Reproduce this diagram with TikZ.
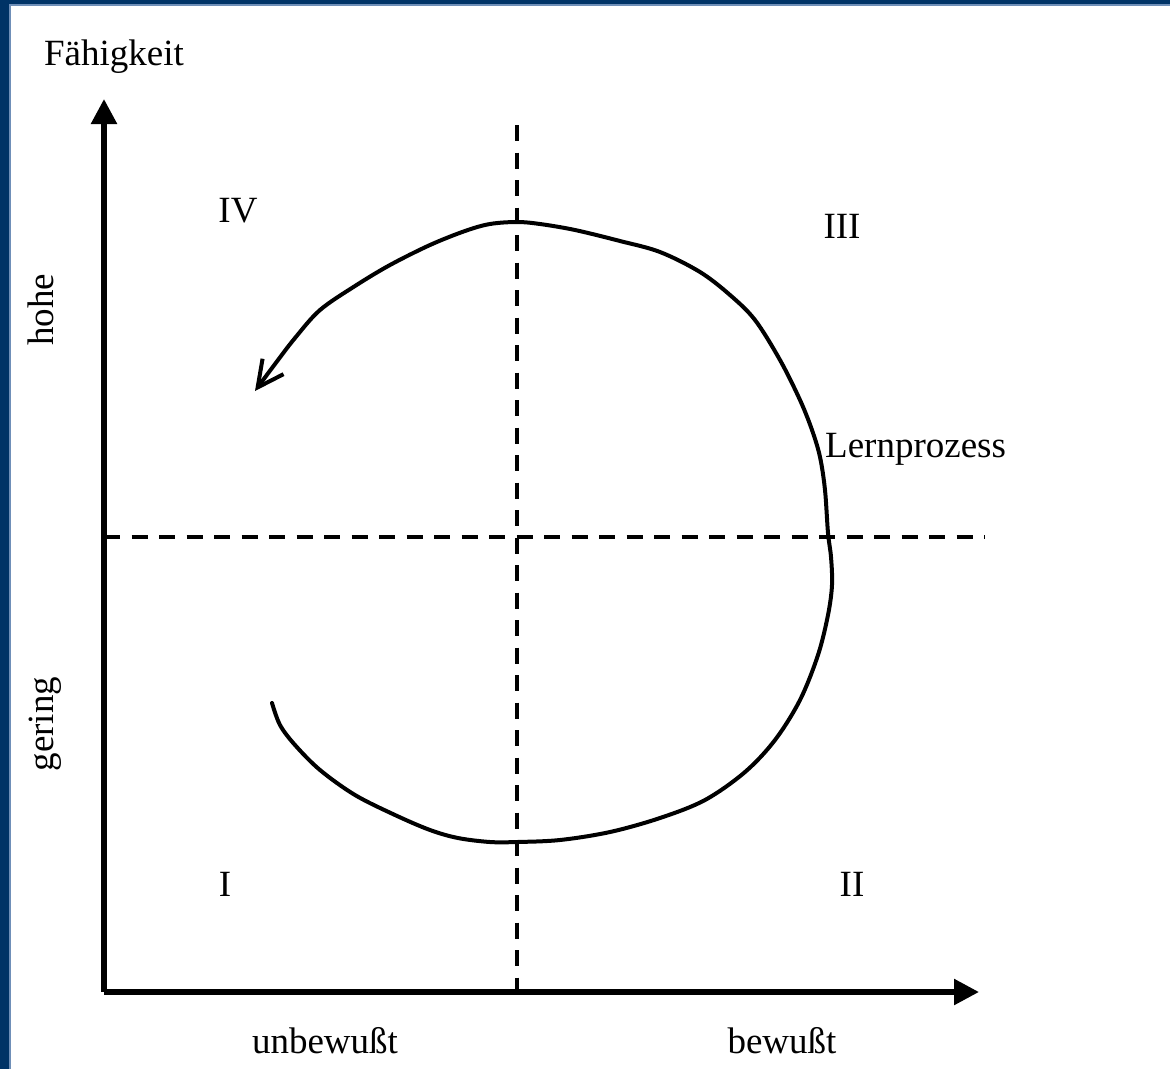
\documentclass[tikz,border=0pt]{standalone}
\usepackage{fontspec}
\setmainfont{Liberation Serif}
\usetikzlibrary{arrows.meta}
\definecolor{navy}{HTML}{003366}
\definecolor{navyedge}{HTML}{6F8FB8}
\begin{document}
\begin{tikzpicture}[x=1pt,y=-1pt,
  lbl/.style={inner sep=0pt,font=\fontsize{37}{44}\selectfont},
  axis/.style={line width=5.5pt,-{Triangle[length=25pt,width=25pt]}},
  divider/.style={line width=4.5pt,dash pattern=on 16pt off 11.5pt},
  curve/.style={line width=4pt,line cap=round,line join=round,-{Straight Barb[length=26pt,width=26pt,line width=4pt]}}]
\useasboundingbox (0,0) rectangle (1170,1069);
\fill[white] (0,0) rectangle (1170,1069);
% frame
\fill[navy] (0,0) rectangle (1170,4);
\fill[navy] (0,0) rectangle (9,1069);
\fill[navyedge] (9,4) rectangle (10.5,1069);
\fill[navyedge] (9,4) rectangle (1170,5.5);
% coordinates
\coordinate (O) at (104,992);
\coordinate (Ytop) at (104,99);
\coordinate (Xend) at (979,992);
\coordinate (Vtop) at (517,125);
\coordinate (Vbot) at (517,992);
\coordinate (Hl) at (104,537);
\coordinate (Hr) at (985,537);
% dividers
\draw[divider] (Vtop) -- (Vbot);
\draw[divider] (Hl) -- (Hr);
% axes
\draw[axis] (O) -- (Ytop);
\draw[axis] (O) -- (Xend);
% learning curve
\draw[curve] plot[smooth,tension=0.55] coordinates {
 (272,703) (280,725) (295,745) (320,770) (355,795) (395,815) (430,830)
 (458,838) (490,842) (517,842) (560,840) (610,832) (660,818) (705,800)
 (745,772) (775,740) (800,700) (818,655) (828,615) (832,585) (831,557)
 (828,533) (825,490) (820,457) (812,430) (800,400) (780,360) (755,320)
 (730,295) (700,272) (660,252) (620,241) (575,230) (540,224) (517,222)
 (490,224) (465,231) (430,245) (390,265) (355,286) (320,310) (295,338)
 (275,364) (255,391)};
% labels
\node[lbl,anchor=base] (fa) at (114,65) {Fähigkeit};
\node[lbl,anchor=base] (q4) at (238,222) {IV};
\node[lbl,anchor=base] (q3) at (842,238) {III};
\node[lbl,anchor=base] (q1) at (225,896) {I};
\node[lbl,anchor=base] (q2) at (852,896) {II};
\node[lbl,anchor=base west] (lp) at (825,457) {Lernprozess};
\node[lbl,anchor=base,rotate=90] (ho) at (53,310) {hohe};
\node[lbl,anchor=base,rotate=90] (ge) at (53,724) {gering};
\node[lbl,anchor=base] (ub) at (325,1053) {unbewußt};
\node[lbl,anchor=base] (bw) at (782,1053) {bewußt};
\end{tikzpicture}
\end{document}
